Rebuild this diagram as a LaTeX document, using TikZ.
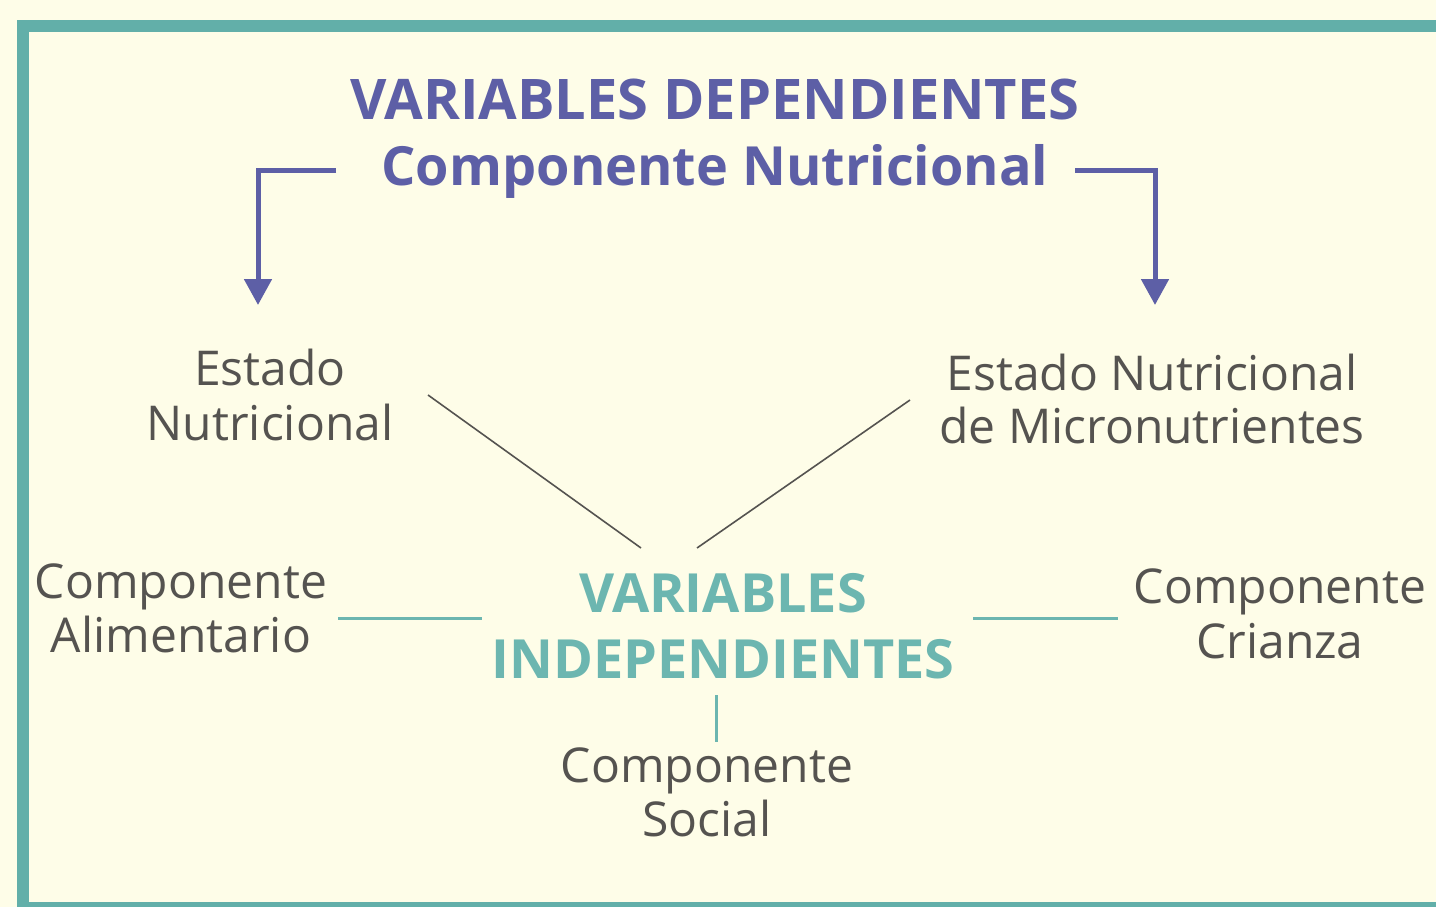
\documentclass[tikz,border=0pt]{standalone}
\usepackage{fontspec}
\setmainfont{Open Sans}
\usetikzlibrary{arrows.meta}
\definecolor{bg}{HTML}{FEFDE8}
\definecolor{frame}{HTML}{62AFA9}
\definecolor{purp}{HTML}{5D5FA6}
\definecolor{tealt}{HTML}{6CB6B0}
\definecolor{grayt}{HTML}{555350}
\tikzset{
  head/.style={anchor=base, inner sep=0pt, text=purp, font=\fontsize{56}{60}\selectfont\bfseries},
  indep/.style={anchor=base, inner sep=0pt, text=tealt, font=\fontsize{54}{58}\selectfont\bfseries},
  lab/.style={anchor=base, inner sep=0pt, text=grayt, font=\fontsize{48}{52}\selectfont},
  parrow/.style={draw=purp, line width=5pt, -{Triangle[width=27pt,length=26pt]}},
  tline/.style={draw=tealt, line width=3pt},
  gline/.style={draw=grayt, line width=1.6pt},
}
\begin{document}
\begin{tikzpicture}[x=1pt,y=-1pt]
\useasboundingbox (0,0) rectangle (1436,907);
\fill[bg] (0,0) rectangle (1436,907);
% frame
\draw[frame, line width=12pt] (23,907) -- (23,26) -- (1436,26);
\draw[frame, line width=6pt] (17,905) -- (1436,905);
% headings
\node[head] (h1) at (715,120) {VARIABLES DEPENDIENTES};
\node[head, font=\fontsize{54}{58}\selectfont\bfseries] (h2) at (715,185) {Componente Nutricional};
% dependent variables
\node[lab] (en1) at (270,385) {Estado};
\node[lab] (en2) at (270,440) {Nutricional};
\node[lab] (em1) at (1152,390) {Estado Nutricional};
\node[lab] (em2) at (1152,443) {de Micronutrientes};
% independent
\node[indep] (vi1) at (723,612) {VARIABLES};
\node[indep] (vi2) at (723,678) {INDEPENDIENTES};
% components
\node[lab] (ca1) at (181,598) {Componente};
\node[lab] (ca2) at (181,652) {Alimentario};
\node[lab] (cc1) at (1280,603) {Componente};
\node[lab] (cc2) at (1280,658) {Crianza};
\node[lab] (cs1) at (707,782) {Componente};
\node[lab] (cs2) at (707,836) {Social};
% brackets with arrows
\coordinate (ls) at (336,170);
\coordinate (lb) at (258,170);
\coordinate (le) at (258,305);
\coordinate (rs) at (1075,170);
\coordinate (rb) at (1155,170);
\coordinate (re) at (1155,305);
\draw[parrow] (ls) -- (lb) -- (le);
\draw[parrow] (rs) -- (rb) -- (re);
% gray lines
\coordinate (g1a) at (428,395);
\coordinate (g1b) at (641,548);
\coordinate (g2a) at (910,400);
\coordinate (g2b) at (697,548);
\draw[gline] (g1a) -- (g1b);
\draw[gline] (g2a) -- (g2b);
% teal lines
\coordinate (tl1) at (338,618);
\coordinate (tl2) at (482,618);
\coordinate (tr1) at (973,618);
\coordinate (tr2) at (1118,618);
\draw[tline] (tl1) -- (tl2);
\draw[tline] (tr1) -- (tr2);
\coordinate (tv1) at (716,695);
\coordinate (tv2) at (716,742);
\draw[tline] (tv1) -- (tv2);
\end{tikzpicture}
\end{document}
